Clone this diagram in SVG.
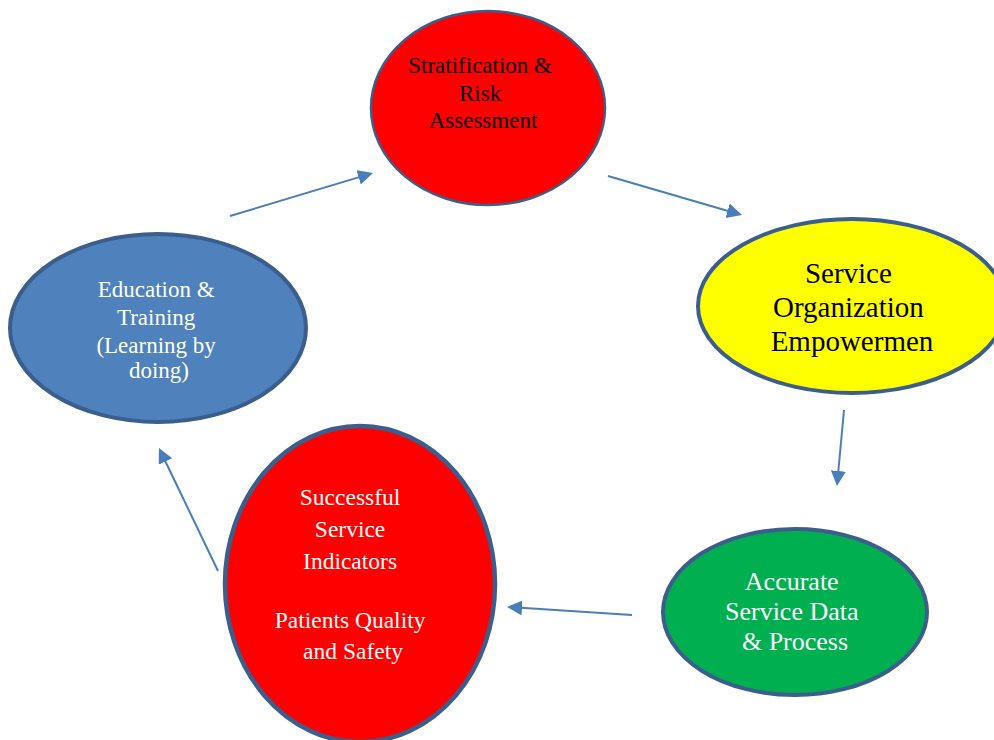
<svg xmlns="http://www.w3.org/2000/svg" width="994" height="740" viewBox="0 0 994 740">
<style>
  .node { stroke: #3B5E8C; }
  .t { font-family: "Liberation Serif", "Times New Roman", serif; text-anchor: middle; }
  .dark { fill: #000000; }
  .light { fill: #FFFFFF; }
  .conn { stroke: #4A7EBB; stroke-width: 2; fill: none; marker-end: url(#ah); }
</style>
<defs>
  <marker id="ah" markerUnits="userSpaceOnUse" markerWidth="18" markerHeight="16" refX="5" refY="7.5" orient="auto">
    <path d="M0,0 L15,7.5 L0,15 z" fill="#4A7EBB"/>
  </marker>
</defs>
<rect x="0" y="0" width="994" height="740" fill="#FFFFFF"/>

<g id="connectors">
  <line class="conn" x1="230" y1="216" x2="363.4" y2="175.9"/>
  <line class="conn" x1="608" y1="176" x2="732.4" y2="212.2"/>
  <line class="conn" x1="844" y1="410" x2="837.9" y2="476"/>
  <line class="conn" x1="632" y1="615" x2="517" y2="607.6"/>
  <line class="conn" x1="218" y1="571" x2="163.3" y2="457"/>
</g>

<g id="node-stratification">
  <ellipse class="node" cx="488" cy="108" rx="117" ry="97" fill="#FF0000" stroke-width="2.5"/>
  <text class="t dark" font-size="23">
    <tspan x="483" y="73">Stratification &amp;</tspan>
    <tspan x="483" y="101">Risk</tspan>
    <tspan x="483" y="128">Assessment</tspan>
  </text>
</g>

<g id="node-service-organization">
  <ellipse class="node" cx="852" cy="306" rx="154" ry="87" fill="#FFFF00" stroke-width="4"/>
  <text class="t dark" font-size="29">
    <tspan x="852" y="283">Service</tspan>
    <tspan x="852" y="317">Organization</tspan>
    <tspan x="852" y="351">Empowermen</tspan>
  </text>
</g>

<g id="node-accurate-data">
  <ellipse class="node" cx="795" cy="612" rx="132" ry="83" fill="#00B050" stroke-width="4"/>
  <text class="t light" font-size="26">
    <tspan x="795" y="590">Accurate</tspan>
    <tspan x="795" y="620">Service Data</tspan>
    <tspan x="795" y="650">&amp; Process</tspan>
  </text>
</g>

<g id="node-successful-indicators">
  <ellipse class="node" cx="360" cy="584" rx="135" ry="158" fill="#FF0000" stroke-width="4.5"/>
  <text class="t light" font-size="23.5">
    <tspan x="353" y="505">Successful</tspan>
    <tspan x="353" y="537">Service</tspan>
    <tspan x="353" y="569">Indicators</tspan>
    <tspan x="353" y="628">Patients Quality</tspan>
    <tspan x="353" y="659">and Safety</tspan>
  </text>
</g>

<g id="node-education">
  <ellipse class="node" cx="158" cy="328" rx="148" ry="94" fill="#4F81BD" stroke-width="4"/>
  <text class="t light" font-size="23">
    <tspan x="159" y="297">Education &amp;</tspan>
    <tspan x="159" y="325">Training</tspan>
    <tspan x="159" y="353">(Learning by</tspan>
    <tspan x="159" y="378">doing)</tspan>
  </text>
</g>
</svg>
